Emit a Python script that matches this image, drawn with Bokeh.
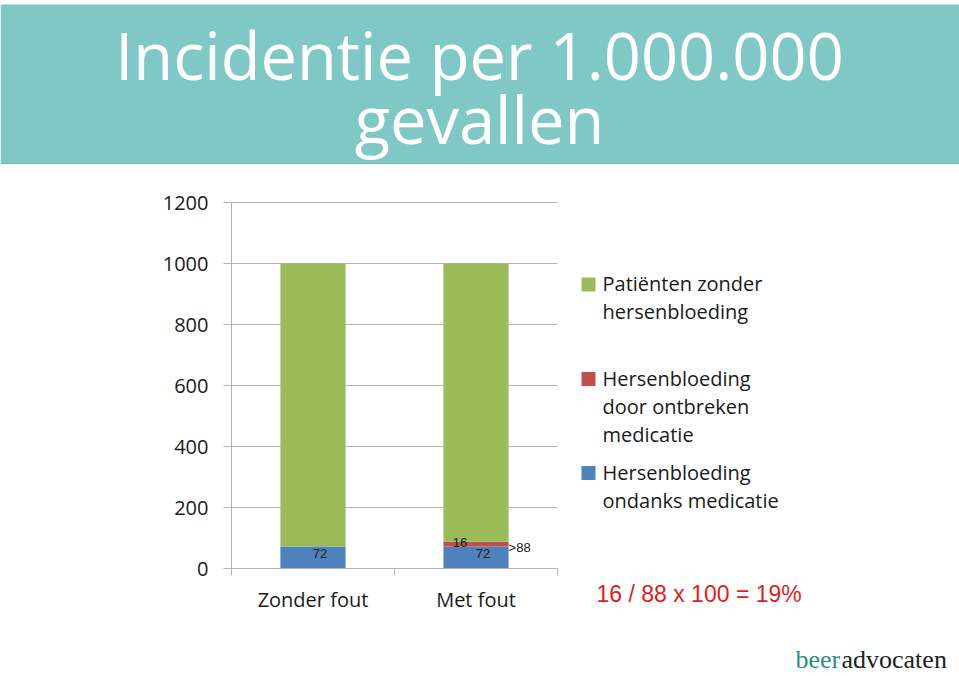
from bokeh.plotting import figure
from bokeh.models import Range1d, FixedTicker, LinearAxis, ColumnDataSource
from bokeh.core.properties import value
from bokeh.embed import file_html
from bokeh.resources import INLINE

# ---------------- data ----------------
categories = ["Zonder fout", "Met fout"]
blue_vals = [72, 72]          # Hersenbloeding ondanks medicatie
red_vals = [0, 16]            # Hersenbloeding door ontbreken medicatie
green_vals = [928, 912]       # Patiënten zonder hersenbloeding
y_ticks = [0, 200, 400, 600, 800, 1000, 1200]
legend_labels = [["Patiënten zonder", "hersenbloeding"],
                 ["Hersenbloeding", "door ontbreken", "medicatie"],
                 ["Hersenbloeding", "ondanks medicatie"]]
title_lines = ["Incidentie per 1.000.000", "gevallen"]
formula = "16 / 88 x 100 = 19%"

GREEN = "#9bbb59"
RED = "#c0504d"
BLUE = "#4f81bd"
TEAL = "#80c8c6"
GRID = "#b3b3b3"
TXT = "#1a1a1a"
FONT = "Open Sans"

# ---------------- layout constants (page pixels) ----------------
W, H = 959, 676
CL, CR, CT, CB = 231, 557, 202, 568     # chart area
NCAT = len(categories)
YMAX = y_ticks[-1]
pxx = (CR - CL) / NCAT                   # pixels per category
pxy = (CB - CT) / YMAX                   # pixels per value unit

p = figure(width=W, height=H, x_range=Range1d(0, W), y_range=Range1d(H, 0),
           toolbar_location=None, output_backend="svg", min_border=0,
           x_axis_location=None, y_axis_location=None)
p.outline_line_color = None
p.grid.visible = False
p.extra_x_ranges = {"cat": Range1d(-CL / pxx, NCAT + (W - CR) / pxx)}
p.extra_y_ranges = {"val": Range1d(-(H - CB) / pxy, YMAX + CT / pxy)}

# ---------------- title band ----------------
p.quad(left=[0], right=[W], top=[4], bottom=[163], fill_color=TEAL, line_color=None)
p.segment(x0=[0], y0=[163], x1=[W], y1=[163], line_color="#70b8b6", line_width=1)
p.text(x=[479, 479], y=[54, 118], text=title_lines, text_font=value(FONT),
       text_font_size="65px", text_color="white", text_align="center",
       text_baseline="alphabetic")

# ---------------- chart ----------------
xc = [i + 0.5 for i in range(NCAT)]
src = ColumnDataSource(dict(x=xc, blue=blue_vals, red=red_vals, green=green_vals))

# horizontal gridlines
p.segment(x0=[0] * len(y_ticks), x1=[NCAT] * len(y_ticks), y0=y_ticks, y1=y_ticks,
          line_color=GRID, line_width=1, x_range_name="cat", y_range_name="val")

rs = p.vbar_stack(["blue", "red", "green"], x="x", width=0.4, source=src,
                  color=[BLUE, RED, GREEN], line_color=None,
                  x_range_name="cat", y_range_name="val")

yaxis = LinearAxis(x_range_name="cat", y_range_name="val", fixed_location=0,
                   bounds=(0, YMAX), ticker=FixedTicker(ticks=y_ticks))
yaxis.axis_line_color = GRID
yaxis.major_tick_line_color = GRID
yaxis.major_tick_out = 8
yaxis.major_tick_in = 0
yaxis.minor_tick_line_color = None
yaxis.major_label_standoff = 15
yaxis.major_label_text_font = FONT
yaxis.major_label_text_font_size = "20px"
yaxis.major_label_text_color = TXT
p.add_layout(yaxis, "left")

xaxis = LinearAxis(x_range_name="cat", y_range_name="val", fixed_location=0,
                   bounds=(0, NCAT),
                   ticker=FixedTicker(ticks=xc, minor_ticks=list(range(NCAT + 1))))
xaxis.major_label_overrides = {x: c for x, c in zip(xc, categories)}
xaxis.axis_line_color = GRID
xaxis.major_tick_line_color = None
xaxis.major_tick_out = 0
xaxis.major_tick_in = 0
xaxis.minor_tick_line_color = GRID
xaxis.minor_tick_out = 7
xaxis.minor_tick_in = 0
xaxis.major_label_standoff = 10
xaxis.major_label_text_font = FONT
xaxis.major_label_text_font_size = "20px"
xaxis.major_label_text_color = TXT
p.add_layout(xaxis, "below")

# value labels
LFONT = value("Liberation Sans")
lab72 = ColumnDataSource(dict(x=xc, y=[b / 2 for b in blue_vals],
                              t=[str(b) for b in blue_vals]))
p.text(x="x", y="y", text="t", source=lab72, x_offset=7, y_offset=-4,
       text_font=LFONT, text_font_size="13px", text_color=TXT,
       text_align="center", text_baseline="middle",
       x_range_name="cat", y_range_name="val")
red_top = blue_vals[1] + red_vals[1]
p.text(x=[xc[1]], y=[blue_vals[1] + red_vals[1] / 2], text=[str(red_vals[1])],
       x_offset=-16, y_offset=-2, text_font=LFONT, text_font_size="13px",
       text_color=TXT, text_align="center", text_baseline="middle",
       x_range_name="cat", y_range_name="val")
p.text(x=[xc[1] + 0.2], y=[red_top], text=[">" + str(red_top)],
       x_offset=0, y_offset=6, text_font=LFONT, text_font_size="13px",
       text_color=TXT, text_align="left", text_baseline="middle",
       x_range_name="cat", y_range_name="val")

# ---------------- legend (order: green, red, blue) ----------------
leg_colors = [GREEN, RED, BLUE]
leg_base = [292, 386.5, 480.5]     # baseline of first line of each entry
LINE = 28.4
TSHIFT = 9                          # text baseline correction
p.quad(left=[581] * 3, right=[595] * 3, top=[b - 15 for b in leg_base],
       bottom=[b - 1 for b in leg_base], fill_color=leg_colors, line_color=None)
lx, ly, lt = [], [], []
for base, lines in zip(leg_base, legend_labels):
    for i, line in enumerate(lines):
        lx.append(602)
        ly.append(base + i * LINE - TSHIFT)
        lt.append(line)
p.text(x=lx, y=ly, text=lt, text_font=value(FONT), text_font_size="20px",
       text_color=TXT, text_align="left", text_baseline="alphabetic")

# ---------------- formula and logo ----------------
p.text(x=[596], y=[593.5], text=[formula], text_font=LFONT, text_font_size="23px",
       text_color="#dc1e1e", text_align="left", text_baseline="alphabetic")
p.text(x=[795], y=[659], text=["beer"], text_font=value("Liberation Serif"),
       text_font_size="26px", text_color="#2a8c87", text_align="left",
       text_baseline="alphabetic")
p.text(x=[841], y=[659], text=["advocaten"], text_font=value("Liberation Serif"),
       text_font_size="26px", text_color="#222222", text_align="left",
       text_baseline="alphabetic")

open("out.html", "w").write(file_html(p, INLINE))
